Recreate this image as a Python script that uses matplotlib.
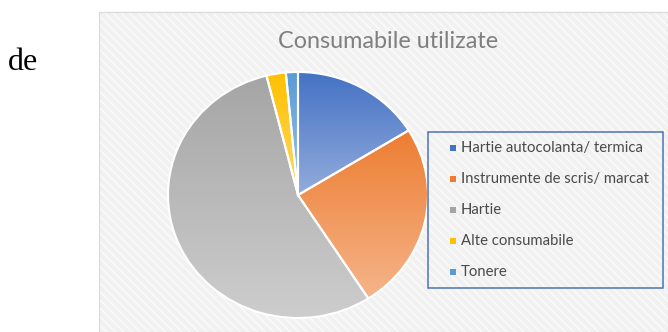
import numpy as np
import matplotlib
matplotlib.use("Agg")
import matplotlib.pyplot as plt
from matplotlib.patches import Rectangle
from matplotlib.colors import LinearSegmentedColormap

categories = ["Hartie autocolanta/ termica", "Instrumente de scris/ marcat",
              "Hartie", "Alte consumabile", "Tonere"]
values = [16.2, 24.7, 55.2, 2.4, 1.5]
top_colors = ["#4472C4", "#ED7D31", "#A5A5A5", "#FFC000", "#5B9BD5"]
bottom_colors = ["#93acdc", "#f5b48a", "#cdcdcd", "#ffd966", "#9dc3e6"]
title = "Consumabile utilizate"

W, H = 668, 332
fig = plt.figure(figsize=(W / 100, H / 100), dpi=100)
fig.patch.set_facecolor("white")

def px(x0, y0, x1, y1):
    return [x0 / W, 1 - y1 / H, (x1 - x0) / W, (y1 - y0) / H]

# chart background
bg = fig.add_axes([0, 0, 1, 1])
bg.set_xlim(0, W)
bg.set_ylim(H, 0)
bg.axis("off")
bg.add_patch(Rectangle((99, 12), W - 99, H - 12, facecolor="#f1f1f1",
                       edgecolor="#fbfbfb", hatch="\\\\\\\\", lw=0))
bg.add_patch(Rectangle((99, 12), W - 99, H - 12, facecolor="none",
                       edgecolor="#d9d9d9", lw=0.8))

fig.text(8 / W, 1 - 70 / H, "de", family="Liberation Serif", fontsize=23,
         va="baseline", ha="left", color="black")
fig.text(388 / W, 1 - 41 / H, title, family="Lato", fontsize=16.8,
         color="#7f7f7f", ha="center", va="center")

# pie
ax = fig.add_axes(px(168, 72, 428, 318))
wedges, _ = ax.pie(values, startangle=90, counterclock=False,
                   colors=top_colors, radius=1,
                   wedgeprops=dict(edgecolor="white", linewidth=1.5))
ax.set_aspect("auto")
ax.axis("off")

grad = np.linspace(0, 1, 256).reshape(-1, 1)
for w, c0, c1 in zip(wedges, top_colors, bottom_colors):
    ext = w.get_path().get_extents()
    cmap = LinearSegmentedColormap.from_list("g", [c0, c1])
    im = ax.imshow(grad, cmap=cmap, extent=[ext.x0, ext.x1, ext.y0, ext.y1],
                   aspect="auto", origin="upper", zorder=1)
    im.set_clip_path(w)
    w.set_facecolor("none")
    w.set_zorder(2)
ax.set_aspect("auto")
ax.set_xlim(-1, 1)
ax.set_ylim(-1, 1)

# legend
lg = fig.add_axes([0, 0, 1, 1])
lg.set_xlim(0, W)
lg.set_ylim(H, 0)
lg.axis("off")
lg.add_patch(Rectangle((428, 132), 235, 156, facecolor="none",
                       edgecolor="#4f72b8", lw=1.1))
for i, (lab, c) in enumerate(zip(categories, top_colors)):
    y = 148 + i * 31
    lg.add_patch(Rectangle((450, y - 3), 5.5, 5.5, facecolor=c, edgecolor="none"))
    lg.text(461, y, lab, family="Lato", fontsize=10.7, color="#4a4a4a",
            va="center", ha="left")

fig.savefig("out.png", dpi=100, facecolor="white")
